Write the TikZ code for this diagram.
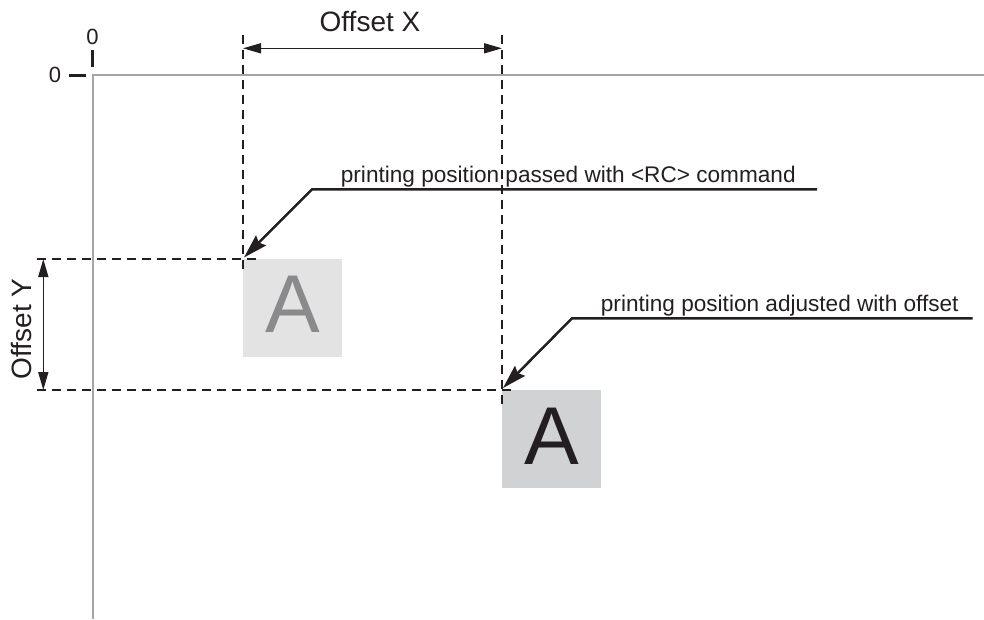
\documentclass[tikz,border=0pt]{standalone}
\usepackage{fontspec}
\setmainfont{Liberation Sans}
\usetikzlibrary{arrows.meta}
\definecolor{ink}{HTML}{231F20}
\definecolor{axisgray}{HTML}{A4A5A9}
\definecolor{paleA}{HTML}{E3E3E3}
\definecolor{paleAtext}{HTML}{8A8A8C}
\definecolor{darkA}{HTML}{D1D2D4}
\tikzset{
  axisline/.style={draw=axisgray, line width=2.4pt},
  tickmark/.style={draw=ink, line width=3pt},
  guide/.style={draw=ink, line width=2.2pt, dash pattern=on 9pt off 6pt},
  dimline/.style={draw=ink, line width=1.6pt, {Triangle[length=18pt,width=10pt]}-{Triangle[length=18pt,width=10pt]}},
  leader/.style={draw=ink, line width=2.5pt, -{Stealth[length=24pt,width=14pt,inset=3pt]}},
  charbox/.style={rectangle, inner sep=0pt, minimum width=99pt, minimum height=98pt, anchor=north west},
  bigA/.style={inner sep=0pt, anchor=base, font=\fontsize{82pt}{90pt}\selectfont},
  dimtext/.style={inner sep=0pt, text=ink, font=\fontsize{28pt}{32pt}\selectfont},
  notetext/.style={inner sep=0pt, anchor=base west, text=ink, font=\fontsize{22.6pt}{27pt}\selectfont},
  zerotext/.style={inner sep=0pt, text=ink, font=\fontsize{22pt}{26pt}\selectfont}
}
\begin{document}
\begin{tikzpicture}[x=1pt, y=-1pt]
\useasboundingbox (0,0) rectangle (984,619);

% coordinate axes
\coordinate (origin) at (93,75);
\draw[axisline] (93,619) -- (origin) -- (984,75);

% zero ticks and labels
\coordinate (tickTopA) at (92.3,50);
\coordinate (tickTopB) at (92.3,66.5);
\coordinate (tickLeftA) at (69,75);
\coordinate (tickLeftB) at (86,75);
\draw[tickmark] (tickTopA) -- (tickTopB);
\draw[tickmark] (tickLeftA) -- (tickLeftB);
\node[zerotext] (zeroTop) at (92.5,37) {0};
\node[zerotext] (zeroLeft) at (55,74.5) {0};

% character boxes
\node[charbox, fill=paleA] (boxOne) at (243,259) {};
\node[charbox, fill=darkA] (boxTwo) at (502,390) {};
\node[bigA, text=paleAtext] (letterOne) at (292.5,332.7) {A};
\node[bigA, text=ink] (letterTwo) at (551.5,464) {A};

% guide lines through the two printing positions
\coordinate (gOneTop) at (243,35);
\coordinate (gOneBot) at (243,273);
\coordinate (gTwoTop) at (502,35);
\coordinate (gTwoBot) at (502,404);
\coordinate (hOneL) at (37,259);
\coordinate (hOneR) at (258,259);
\coordinate (hTwoL) at (37,390);
\coordinate (hTwoR) at (516,390);
\draw[guide] (gOneTop) -- (gOneBot);
\draw[guide] (gTwoTop) -- (gTwoBot);
\draw[guide] (hOneL) -- (hOneR);
\draw[guide] (hTwoL) -- (hTwoR);

% offset dimensions
\coordinate (dxL) at (243,48.3);
\coordinate (dxR) at (502,48.3);
\coordinate (dyT) at (43.3,259);
\coordinate (dyB) at (43.3,390);
\draw[dimline] (dxL) -- (dxR);
\draw[dimline] (dyT) -- (dyB);
\node[dimtext] (offX) at (370,22) {Offset X};
\node[dimtext, rotate=90] (offY) at (22,329) {Offset Y};

% leader notes
\coordinate (noteOneEnd) at (817,189.3);
\coordinate (noteOneKnee) at (312,189.3);
\coordinate (noteOneTip) at (244,257.5);
\draw[leader] (noteOneEnd) -- (noteOneKnee) -- (noteOneTip);
\node[notetext] (noteOne) at (340.7,182.3) {printing position passed with <RC> command};

\coordinate (noteTwoEnd) at (972.7,318.3);
\coordinate (noteTwoKnee) at (572,318.3);
\coordinate (noteTwoTip) at (503,388);
\draw[leader] (noteTwoEnd) -- (noteTwoKnee) -- (noteTwoTip);
\node[notetext] (noteTwo) at (600.7,311) {printing position adjusted with offset};
\end{tikzpicture}
\end{document}
